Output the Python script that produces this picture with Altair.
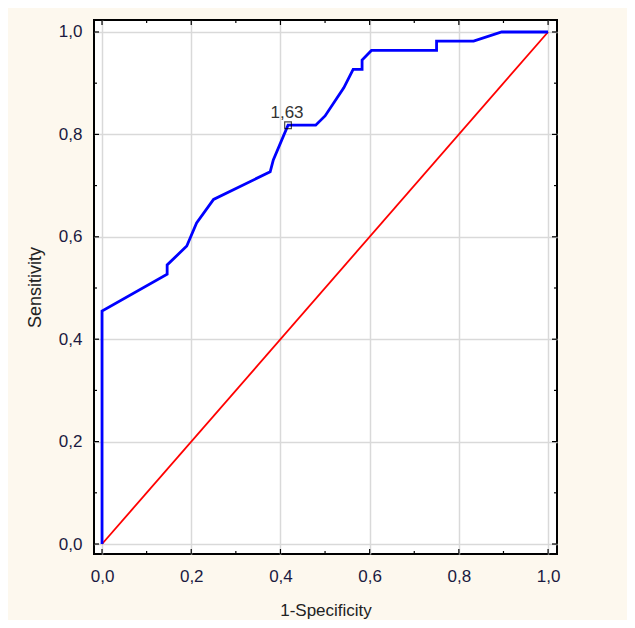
import altair as alt
import pandas as pd

# ROC curve (blue)
fpr = [0.0, 0.0, 0.146, 0.146, 0.19, 0.212, 0.25, 0.377, 0.384, 0.417, 0.479, 0.5,
       0.542, 0.563, 0.583, 0.583, 0.604, 0.75, 0.75, 0.833, 0.896, 1.0]
tpr = [0.0, 0.455, 0.527, 0.545, 0.582, 0.627, 0.673, 0.727, 0.75, 0.818, 0.818, 0.836,
       0.891, 0.927, 0.927, 0.945, 0.964, 0.964, 0.982, 0.982, 1.0, 1.0]
# reference diagonal (red)
diag_x = [0.0, 1.0]
diag_y = [0.0, 1.0]
# cut-off point
cut_x = [0.417]
cut_y = [0.818]
cut_label = ["1,63"]
# ticks
major_ticks = [0.0, 0.2, 0.4, 0.6, 0.8, 1.0]
minor_ticks = [0.1, 0.3, 0.5, 0.7, 0.9]

W, H = 463, 534
xdom = [-0.018, 1.02]
ydom = [-0.0195, 1.0234]

roc = pd.DataFrame({"x": fpr, "y": tpr, "i": list(range(len(fpr)))})
diag = pd.DataFrame({"x": diag_x, "y": diag_y})
cut = pd.DataFrame({"x": cut_x, "y": cut_y, "t": cut_label})
maj = pd.DataFrame({"v": major_ticks})
mnr = pd.DataFrame({"v": minor_ticks})

xs = alt.Scale(domain=xdom, nice=False, zero=False)
ys = alt.Scale(domain=ydom, nice=False, zero=False)

label_expr = "replace(format(datum.value, '.1f'), '.', ',')"
xaxis = alt.Axis(values=major_ticks, labelExpr=label_expr, title="1-Specificity",
                 ticks=False, domain=False, grid=True, gridColor="#d9d9d9", gridWidth=1.5,
                 labelPadding=14, titlePadding=18, titleFontSize=17)
yaxis = alt.Axis(values=major_ticks, labelExpr=label_expr, title="Sensitivity",
                 ticks=False, domain=False, grid=True, gridColor="#d9d9d9", gridWidth=1.5,
                 labelPadding=12, titlePadding=14, titleFontSize=18)

line = alt.Chart(roc).mark_line(color="#0000FF", strokeWidth=2.8).encode(
    x=alt.X("x:Q", scale=xs, axis=xaxis),
    y=alt.Y("y:Q", scale=ys, axis=yaxis),
    order="i:Q",
)
red = alt.Chart(diag).mark_line(color="#FF0000", strokeWidth=1.8).encode(
    x=alt.X("x:Q", scale=xs), y=alt.Y("y:Q", scale=ys)
)
pt = alt.Chart(cut).mark_point(shape="square", filled=False, color="black", size=45,
                               strokeWidth=1.2).encode(
    x=alt.X("x:Q", scale=xs), y=alt.Y("y:Q", scale=ys)
)
txt = alt.Chart(cut).mark_text(fontSize=17, font="Liberation Sans", color="#333333",
                               baseline="alphabetic", dx=-1, dy=-7).encode(
    x=alt.X("x:Q", scale=xs), y=alt.Y("y:Q", scale=ys), text="t:N"
)

def xticks(df, length):
    b = alt.Chart(df).mark_rule(color="black", strokeWidth=1.2).encode(
        x=alt.X("v:Q", scale=xs), y=alt.value(H), y2=alt.value(H - length))
    t = alt.Chart(df).mark_rule(color="black", strokeWidth=1.2).encode(
        x=alt.X("v:Q", scale=xs), y=alt.value(0), y2=alt.value(length))
    return [b, t]

def yticks(df, length):
    l = alt.Chart(df).mark_rule(color="black", strokeWidth=1.2).encode(
        y=alt.Y("v:Q", scale=ys), x=alt.value(0), x2=alt.value(length))
    r = alt.Chart(df).mark_rule(color="black", strokeWidth=1.2).encode(
        y=alt.Y("v:Q", scale=ys), x=alt.value(W), x2=alt.value(W - length))
    return [l, r]

layers = [red, line, pt, txt] + xticks(maj, 5) + xticks(mnr, 3) + yticks(maj, 5) + yticks(mnr, 3)

chart = alt.layer(*layers).properties(
    width=W, height=H,
    background="#FDF8EE",
    padding={"left": 86, "top": 12, "right": 70, "bottom": 66},
    autosize=alt.AutoSizeParams(type="none"),
).configure_view(
    stroke="black", strokeWidth=2, fill="white"
).configure_axis(
    labelFont="Liberation Sans", labelFontSize=17, labelColor="#1a1a40",
    titleFont="Liberation Sans", titleColor="#222222",
    titleFontWeight="normal",
)

chart.save("out.html", embed_options={"renderer": "svg", "actions": False})
